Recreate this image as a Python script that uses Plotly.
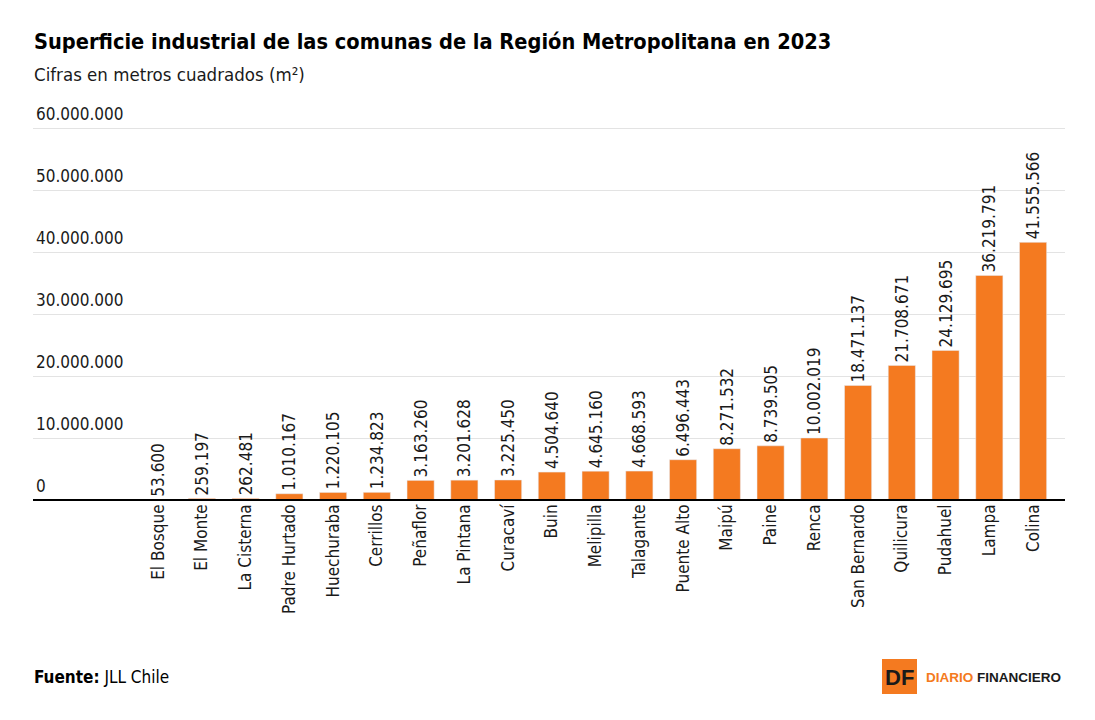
import plotly.graph_objects as go

comunas = ["El Bosque", "El Monte", "La Cisterna", "Padre Hurtado", "Huechuraba", "Cerrillos",
           "Peñaflor", "La Pintana", "Curacaví", "Buin", "Melipilla", "Talagante", "Puente Alto",
           "Maipú", "Paine", "Renca", "San Bernardo", "Quilicura", "Pudahuel", "Lampa", "Colina"]
superficie = [53600, 259197, 262481, 1010167, 1220105, 1234823,
              3163260, 3201628, 3225450, 4504640, 4645160, 4668593, 6496443,
              8271532, 8739505, 10002019, 18471137, 21708671, 24129695, 36219791, 41555566]
y_ticks = [0, 10000000, 20000000, 30000000, 40000000, 50000000, 60000000]

FONT = "DejaVu Sans Condensed, Liberation Sans Narrow, Roboto, sans-serif"
ORANGE = "#F47A20"

W, H = 1095, 720
L, R, T, B = 33, 30, 97, 220
pw, ph = W - L - R, H - T - B

def px(x):
    return (x - L) / pw

def py(y):
    return (H - B - y) / ph

fig = go.Figure(go.Bar(
    x=list(range(len(comunas))), y=superficie,
    marker_color=ORANGE, width=0.62,
    texttemplate="%{y:,d}", textposition="outside", textangle=-90,
    constraintext="none", cliponaxis=False,
    textfont=dict(family=FONT, size=17, color="#1a1a1a"),
    hoverinfo="skip",
))

fig.update_layout(
    width=W, height=H, margin=dict(l=L, r=R, t=T, b=B, autoexpand=False),
    paper_bgcolor="white", plot_bgcolor="white",
    separators=",.", showlegend=False, bargap=0.38,
    font=dict(family=FONT, color="#1a1a1a"),
    xaxis=dict(range=[-2.86, 20.73], tickmode="array", tickvals=list(range(len(comunas))),
               ticktext=comunas, tickangle=-90, showgrid=False, zeroline=False,
               showline=False, ticks="", tickfont=dict(family=FONT, size=17, color="#1a1a1a")),
    yaxis=dict(range=[0, 65000000], tickmode="array", tickvals=y_ticks,
               ticktext=[f"{v:,}".replace(",", ".") for v in y_ticks],
               ticklabelposition="inside", ticklabelshift=-14, ticklabelstandoff=0,
               showgrid=True, gridcolor="#e3e3e3", gridwidth=1, zeroline=False,
               showline=False, ticks="", tickfont=dict(family=FONT, size=17, color="#1a1a1a")),
    shapes=[
        dict(type="line", xref="paper", yref="paper", x0=0, x1=1, y0=0, y1=0,
             line=dict(color="black", width=2)),
        dict(type="rect", xref="paper", yref="paper", x0=px(882), x1=px(917), y0=py(694), y1=py(659),
             fillcolor=ORANGE, line=dict(width=0)),
    ],
    annotations=[
        dict(text="<b>Superficie industrial de las comunas de la Región Metropolitana en 2023</b>",
             xref="paper", yref="paper", x=px(32), y=py(42), xanchor="left", yanchor="middle",
             showarrow=False, font=dict(family=FONT, size=21.6, color="black")),
        dict(text="Cifras en metros cuadrados (m²)",
             xref="paper", yref="paper", x=px(32), y=py(75), xanchor="left", yanchor="middle",
             showarrow=False, font=dict(family=FONT, size=18.5, color="#1a1a1a")),
        dict(text="<b>Fuente:</b> JLL Chile",
             xref="paper", yref="paper", x=px(32), y=py(677), xanchor="left", yanchor="middle",
             showarrow=False, font=dict(family=FONT, size=17, color="black")),
        dict(text="<b>DF</b>",
             xref="paper", yref="paper", x=px(899.5), y=py(677), xanchor="center", yanchor="middle",
             showarrow=False, font=dict(family="Liberation Sans, Arial", size=22, color="#1a1a1a")),
        dict(text="<b><span style='color:#F47A20'>DIARIO</span> FINANCIERO</b>",
             xref="paper", yref="paper", x=px(924), y=py(677), xanchor="left", yanchor="middle",
             showarrow=False, font=dict(family="Liberation Sans, Arial", size=13.5, color="#1a1a1a")),
    ],
)

fig.write_html("out.html")
